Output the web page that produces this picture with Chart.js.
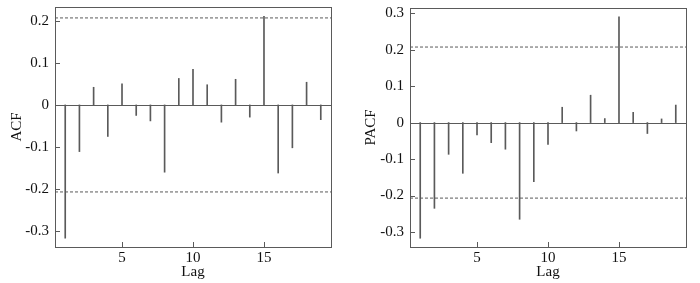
<!DOCTYPE html>
<html><head><meta charset="utf-8">
<script src="https://cdn.jsdelivr.net/npm/chart.js@4/dist/chart.umd.min.js"></script>
<style>
html,body{margin:0;padding:0;background:#fff;}
#wrap{position:relative;width:700px;height:283px;overflow:hidden;}
.box{position:absolute;top:0;width:350px;height:283px;}
.pre{font-family:'Liberation Serif';position:absolute;left:-999px;}
</style></head><body>
<span class="pre">Lag ACF 0.1</span>
<div id="wrap">
<div class="box" style="left:0"><canvas id="acf" width="350" height="283"></canvas></div>
<div class="box" style="left:350px"><canvas id="pacf" width="350" height="283"></canvas></div>
</div>
<script>
const lags = [1,2,3,4,5,6,7,8,9,10,11,12,13,14,15,16,17,18,19];
const acfValues = [-0.317,-0.111,0.042,-0.075,0.050,-0.025,-0.038,-0.160,0.063,0.085,0.048,-0.041,0.061,-0.029,0.211,-0.162,-0.102,0.054,-0.035];
const pacfValues = [-0.317,-0.235,-0.087,-0.139,-0.034,-0.055,-0.073,-0.265,-0.162,-0.060,0.042,-0.023,0.075,0.011,0.290,0.028,-0.030,0.010,0.048];
const ciBound = 0.207;
const xTickValues = [5,10,15];
const acfYTicks = [-0.3,-0.2,-0.1,0,0.1,0.2];
const pacfYTicks = [-0.3,-0.2,-0.1,0,0.1,0.2,0.3];
const acfRange = [-0.338,0.233];
const pacfRange = [-0.341,0.314];
const lagRange = [0.28,19.72];

const INK = '#5a5a5a';
const TEXT = '#111';
const FONT = {family:'Liberation Serif', size:15};

const framePlugin = {
  id:'frame',
  beforeDatasetsDraw(chart){
    const {ctx, chartArea:a, scales:{x,y}} = chart;
    const y0 = Math.round(y.getPixelForValue(0)) + 0.5;
    ctx.save();
    ctx.strokeStyle = INK; ctx.lineWidth = 1;
    ctx.beginPath(); ctx.moveTo(a.left, y0); ctx.lineTo(a.right, y0); ctx.stroke();
    ctx.restore();
  },
  afterDraw(chart){
    const {ctx, chartArea:a, scales:{x,y}} = chart;
    ctx.save();
    ctx.strokeStyle = INK; ctx.lineWidth = 1;
    ctx.strokeRect(Math.round(a.left)+0.5, Math.round(a.top)+0.5, Math.round(a.right-a.left), Math.round(a.bottom-a.top));
    ctx.beginPath();
    y.ticks.forEach(t=>{
      const py = Math.round(y.getPixelForValue(t.value))+0.5;
      ctx.moveTo(a.left, py); ctx.lineTo(a.left+5, py);
    });
    x.ticks.forEach(t=>{
      const px = Math.round(x.getPixelForValue(t.value))+0.5;
      ctx.moveTo(px, a.bottom); ctx.lineTo(px, a.bottom-5);
    });
    ctx.stroke();
    ctx.restore();
  }
};

function makeChart(id, values, yTicks, yRange, title, yWidth, pad, titlePad){
  new Chart(document.getElementById(id), {
    type:'bar',
    data:{datasets:[
      {type:'bar', data:lags.map((l,i)=>({x:l,y:values[i]})), backgroundColor:INK, borderWidth:0, barThickness:1, order:2},
      {type:'line', data:[{x:lagRange[0],y:ciBound},{x:lagRange[1],y:ciBound}], borderColor:INK, borderWidth:1, borderDash:[3,2], pointRadius:0, order:1},
      {type:'line', data:[{x:lagRange[0],y:-ciBound},{x:lagRange[1],y:-ciBound}], borderColor:INK, borderWidth:1, borderDash:[3,2], pointRadius:0, order:1}
    ]},
    options:{
      responsive:false, animation:false, devicePixelRatio:1,
      layout:{padding:pad},
      plugins:{legend:{display:false}, tooltip:{enabled:false}},
      scales:{
        x:{type:'linear', offset:false, min:lagRange[0], max:lagRange[1],
           afterBuildTicks(s){ s.ticks = xTickValues.map(v=>({value:v})); },
           afterFit(s){ s.height = 36; s.paddingLeft = 0; s.paddingRight = 0; },
           grid:{display:false, drawTicks:false}, border:{display:false},
           ticks:{font:FONT, color:TEXT, padding:2, maxRotation:0, autoSkip:false, callback:v=>String(v)},
           title:{display:true, text:'Lag', font:FONT, color:TEXT, padding:{top:0,bottom:2}}},
        y:{type:'linear', min:yRange[0], max:yRange[1],
           afterBuildTicks(s){ s.ticks = yTicks.map(v=>({value:v})); },
           afterFit(s){ s.width = yWidth; s.paddingTop = 0; s.paddingBottom = 0; },
           grid:{display:false, drawTicks:false}, border:{display:false},
           ticks:{font:FONT, color:TEXT, padding:6, autoSkip:false, callback:v=>String(v)},
           title:{display:true, text:title, font:FONT, color:TEXT, padding:{top:titlePad,bottom:0}}}
      }
    },
    plugins:[framePlugin]
  });
}
function draw(){
  makeChart('acf', acfValues, acfYTicks, acfRange, 'ACF', 55, {left:0,right:19,top:7,bottom:0}, 8);
  makeChart('pacf', pacfValues, pacfYTicks, pacfRange, 'PACF', 60, {left:0,right:14,top:8,bottom:0}, 12);
}
if (document.fonts && document.fonts.load) {
  document.fonts.load('15px "Liberation Serif"').then(draw, draw);
} else { draw(); }
</script>
</body></html>
